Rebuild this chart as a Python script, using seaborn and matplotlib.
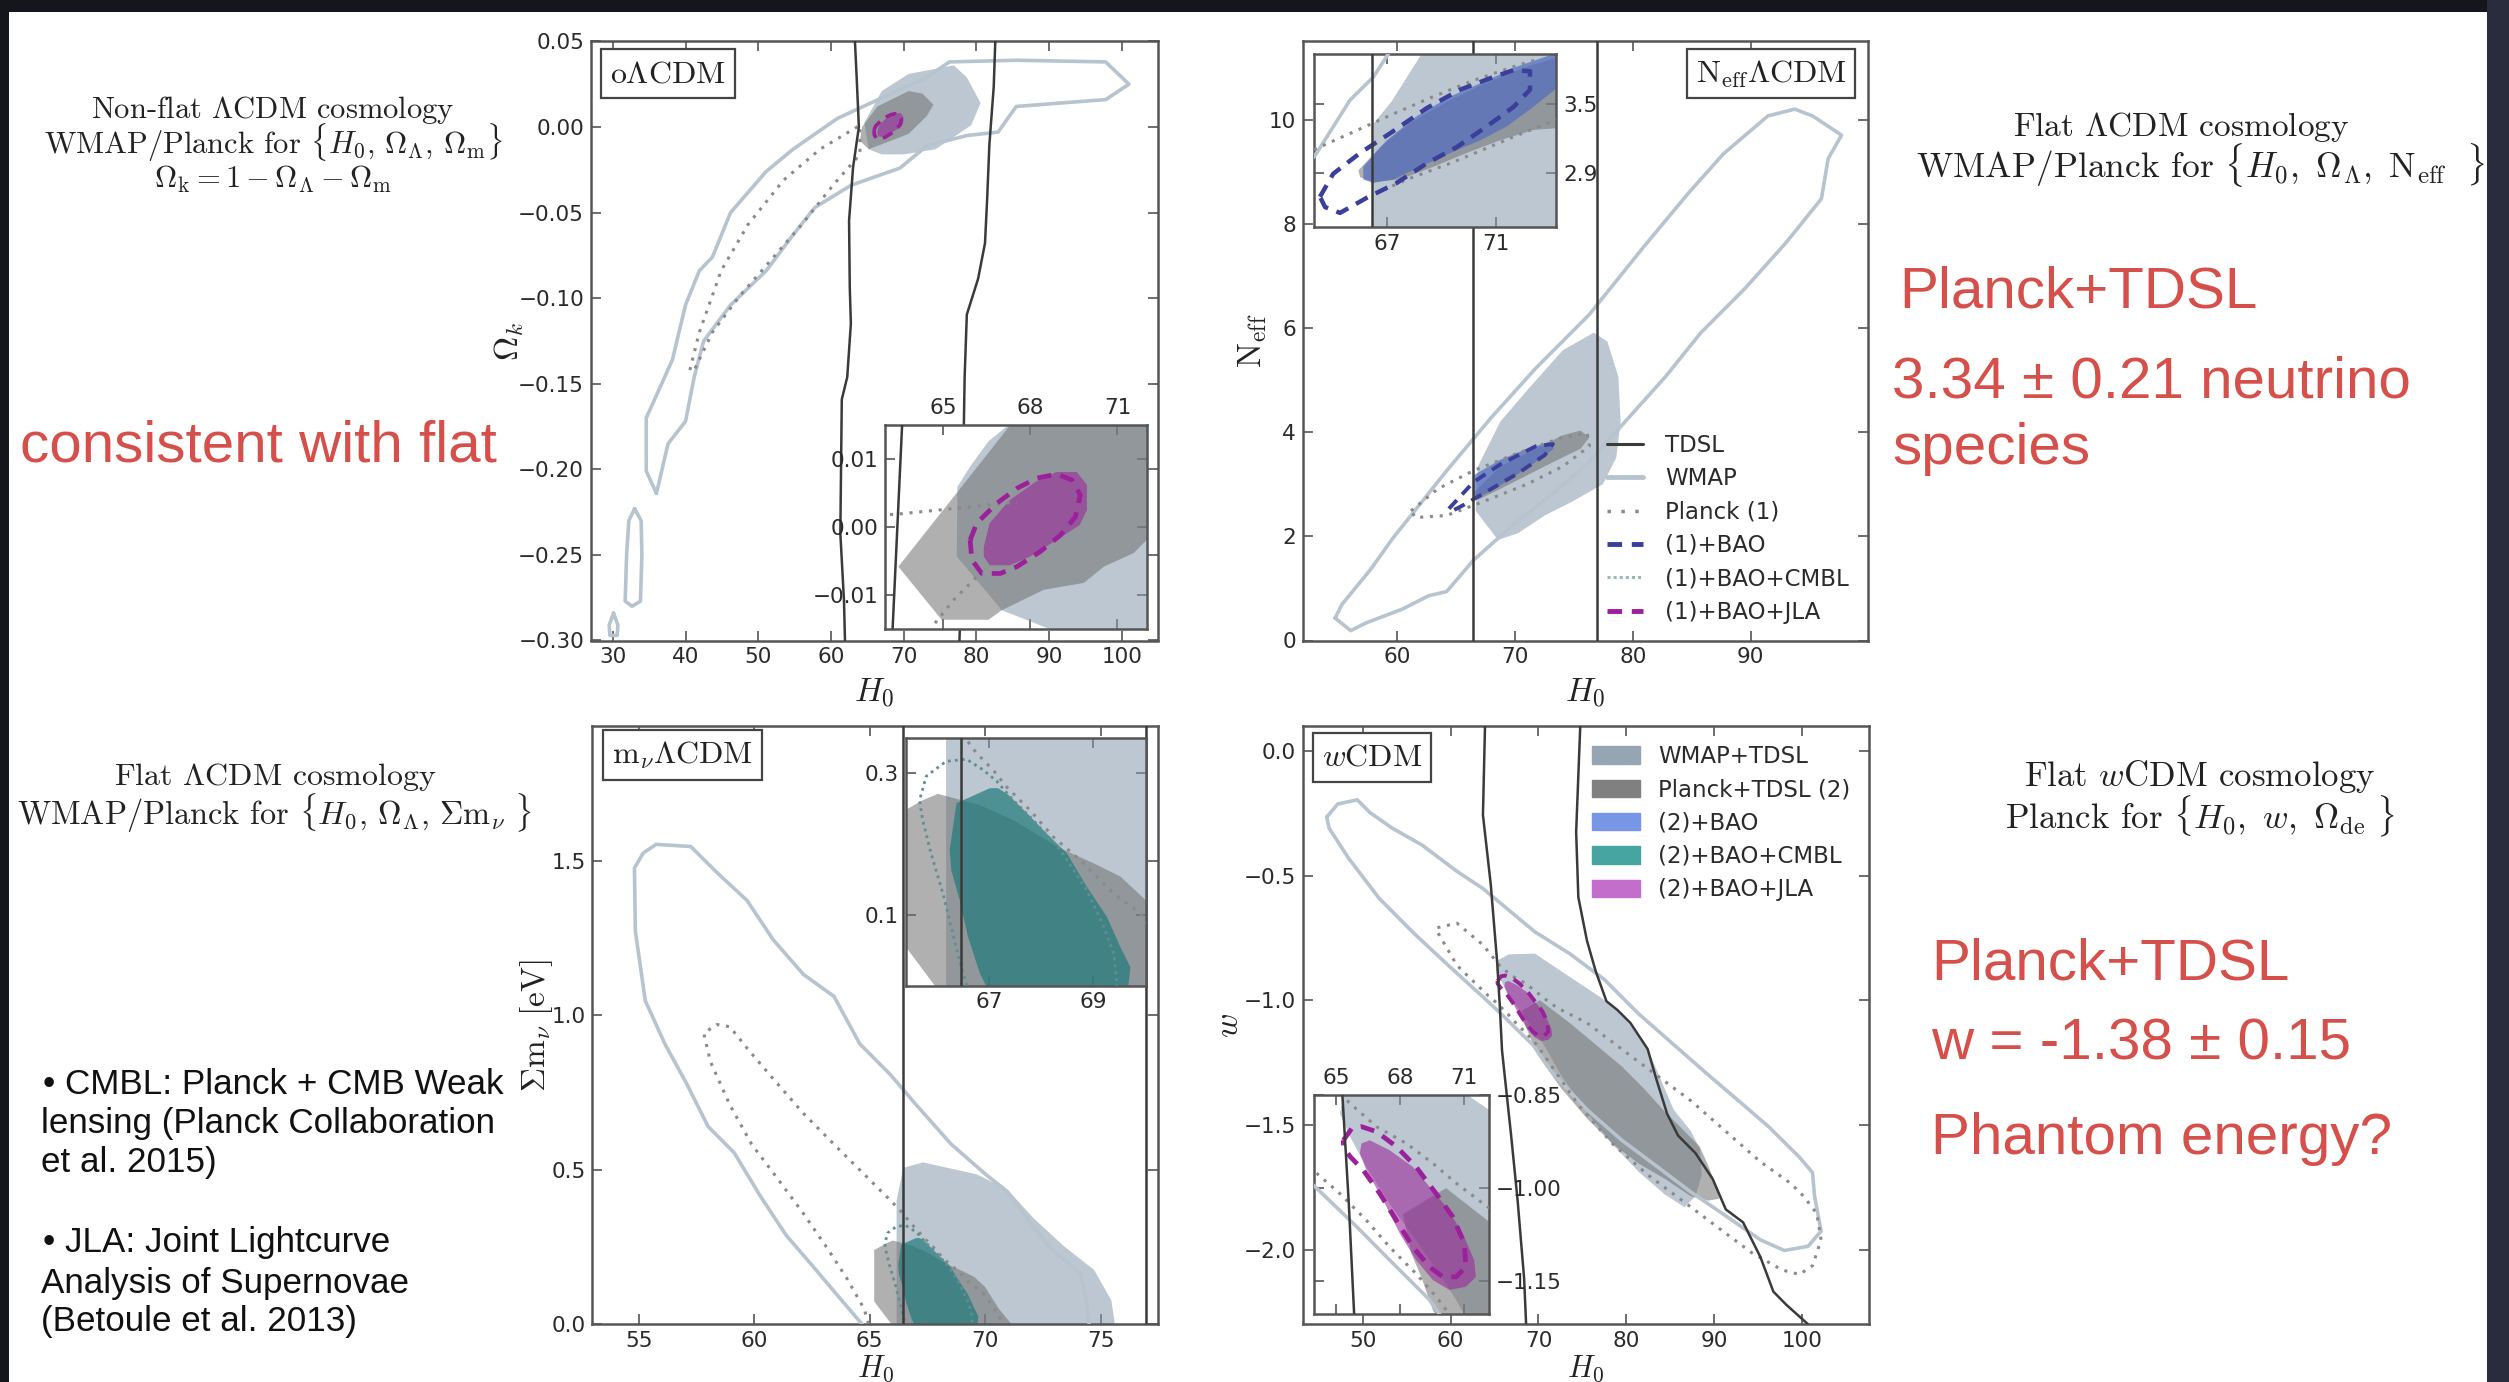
import numpy as np
import matplotlib
matplotlib.use("Agg")
import matplotlib.pyplot as plt
import seaborn as sns
from matplotlib.lines import Line2D
from matplotlib.patches import Patch, Rectangle

# ---------------- values ----------------
# oLCDM panel, points are (H0, Omega_k)
ok_tdsl_left = [(63.2, 0.06), (63.55, 0.0286), (63.85, 0.0), (63.05, -0.0236), (62.5, -0.0548),
                (62.6, -0.094), (62.75, -0.1148), (62.25, -0.1461), (61.5, -0.1592), (61.4, -0.1983),
                (61.3, -0.2374), (61.8, -0.2765), (62.0, -0.31)]
ok_tdsl_right = [(82.7, 0.06), (82.4, 0.0234), (81.8, -0.0105), (81.5, -0.0418), (81.2, -0.0679),
                 (80.25, -0.0887), (78.7, -0.1096), (78.4, -0.1461), (78.2, -0.1983), (78.1, -0.2504),
                 (77.6, -0.31)]
ok_wmap = [(36.0, -0.214), (34.6, -0.201), (34.6, -0.170), (36.3, -0.154), (38.2, -0.136), (40.0, -0.104),
           (41.9, -0.084), (43.7, -0.076), (46.2, -0.050), (51.1, -0.026), (54.8, -0.013), (60.9, 0.005),
           (67.0, 0.017), (73.2, 0.029), (76.3, 0.038), (85.5, 0.039), (97.8, 0.038), (101.0, 0.025),
           (97.8, 0.016), (91.6, 0.014), (85.5, 0.012), (83.0, -0.003), (78.7, -0.005), (73.2, -0.011),
           (69.5, -0.024), (62.8, -0.034), (57.8, -0.047), (54.8, -0.063), (51.1, -0.084), (46.2, -0.104),
           (42.5, -0.125), (41.2, -0.146), (40.0, -0.172), (37.6, -0.185)]
ok_wmap_isle = [(33.0, -0.223), (33.9, -0.230), (34.0, -0.250), (33.8, -0.277), (32.65, -0.280),
                (31.7, -0.277), (31.9, -0.250), (32.2, -0.230)]
ok_wmap_spot = [(30.1, -0.284), (30.7, -0.291), (30.6, -0.297), (29.6, -0.297), (29.5, -0.291)]
ok_planck = [(40.6, -0.142), (41.9, -0.120), (44.9, -0.084), (48.6, -0.057), (53.5, -0.031), (58.5, -0.013),
             (64.0, 0.001), (64.0, -0.016), (60.3, -0.034), (56.0, -0.057), (51.7, -0.078), (47.4, -0.099),
             (43.7, -0.120), (41.2, -0.142)]
ok_wmap_tdsl = [(64.6, 0.0025), (67.0, 0.021), (70.7, 0.031), (76.9, 0.036), (78.7, 0.029), (80.6, 0.014),
                (79.3, 0.001), (74.4, -0.013), (70.1, -0.016), (67.0, -0.016), (65.2, -0.013)]
ok_planck_tdsl = [(64.3, 0.0), (66.4, 0.012), (70.7, 0.021), (72.6, 0.0195), (74.1, 0.013), (73.2, 0.0064),
                  (70.7, -0.004), (68.3, -0.008), (65.2, -0.013), (64.0, -0.008)]
ok_jla_fill = [(66.4, -0.0029), (66.6, 0.0006), (67.3, 0.0040), (68.2, 0.0067), (68.9, 0.0081), (69.6, 0.0081),
               (69.95, 0.0062), (69.95, 0.0025), (69.7, 0.0003), (68.9, -0.0019), (68.0, -0.0043),
               (67.3, -0.0056), (66.6, -0.0056), (66.4, -0.0043)]
ok_jla_line = [(65.93, -0.0019), (66.16, 0.0006), (66.85, 0.0035), (67.54, 0.0057), (68.23, 0.0072),
               (68.92, 0.0078), (69.44, 0.0069), (69.72, 0.0047), (69.55, 0.0015), (69.03, -0.0012),
               (68.34, -0.0036), (67.54, -0.0058), (66.97, -0.0068), (66.33, -0.0068), (65.99, -0.0048)]
# oLCDM zoom
ok_in_planck_tdsl = [(63.46, -0.0058), (66.28, 0.0094), (67.31, 0.015), (67.7, 0.02), (73.0, 0.02),
                     (73.0, -0.0019), (72.0, -0.0019), (71.56, -0.0038), (70.53, -0.0058), (69.84, -0.0082),
                     (68.46, -0.0092), (67.02, -0.0122), (66.56, -0.0136), (64.95, -0.0136)]
ok_in_wmap_tdsl = [(67.54, 0.0201), (67.25, 0.015), (66.56, 0.0126), (65.93, 0.0089), (65.49, 0.0059),
                   (65.47, -0.0043), (67.02, -0.0122), (68.69, -0.015), (68.92, -0.0166), (73.0, -0.02),
                   (73.0, 0.02)]
ok_in_planck_a = [(62.5, 0.0017), (63.4, 0.0019), (66.0, 0.0030), (67.54, 0.0037)]
ok_in_planck_b = [(64.72, -0.0141), (65.4, -0.0105), (66.16, -0.0073)]
ok_in_tdsl = [(63.6, 0.016), (63.25, -0.016)]
ok_xticks = [30, 40, 50, 60, 70, 80, 90, 100]
ok_yticks = [0.05, 0.0, -0.05, -0.10, -0.15, -0.20, -0.25, -0.30]
ok_in_xticks = [65, 68, 71]
ok_in_yticks = [0.01, 0.0, -0.01]

# NeffLCDM panel, points are (H0, Neff)
ne_tdsl = [66.43, 77.0]
ne_wmap = [(54.73, 0.43), (55.3, 0.69), (57.76, 1.37), (59.65, 1.97), (61.17, 2.40), (64.2, 3.26),
           (67.99, 4.28), (71.78, 5.23), (76.32, 6.26), (80.87, 7.54), (84.66, 8.57), (87.69, 9.34),
           (91.48, 10.07), (93.75, 10.20), (95.26, 10.07), (97.73, 9.70), (96.59, 9.25), (96.02, 8.48),
           (92.99, 7.63), (89.58, 6.77), (85.79, 5.91), (82.76, 5.06), (79.35, 4.20), (76.32, 3.43),
           (73.29, 2.83), (69.88, 2.23), (66.47, 1.54), (64.2, 0.94), (62.68, 0.86), (60.41, 0.60),
           (57.38, 0.34), (56.05, 0.19)]
ne_wmap_tdsl = [(68.56, 1.93), (66.66, 2.49), (66.85, 3.34), (68.75, 4.20), (71.02, 4.80), (74.05, 5.57),
                (76.70, 5.91), (77.84, 5.74), (78.78, 5.06), (78.97, 4.20), (78.60, 3.51), (77.46, 3.00),
                (74.81, 2.66), (72.53, 2.40), (70.26, 2.06)]
ne_planck_tdsl = [(66.47, 2.83), (68.75, 3.34), (71.78, 3.68), (74.05, 3.94), (75.56, 4.03), (76.32, 3.90),
                  (75.56, 3.68), (73.29, 3.43), (71.02, 3.17), (68.75, 2.91), (66.85, 2.70)]
ne_bao_fill = [(66.47, 2.70), (66.47, 3.17), (68.75, 3.47), (71.02, 3.68), (72.91, 3.81), (73.29, 3.68),
               (71.78, 3.43), (69.50, 3.08), (67.61, 2.83)]
ne_bao_line = [(64.39, 2.53), (66.47, 3.04), (68.75, 3.38), (71.78, 3.73), (73.22, 3.77), (72.53, 3.56),
               (70.26, 3.21), (67.99, 2.91), (65.71, 2.61), (64.77, 2.50)]
ne_planck = [(61.17, 2.49), (63.44, 2.91), (66.47, 3.26), (70.26, 3.60), (74.05, 3.90), (76.13, 3.98),
             (76.32, 3.73), (74.05, 3.34), (71.02, 3.00), (67.23, 2.66), (64.2, 2.40), (61.55, 2.36)]
# NeffLCDM zoom
ne_in_wmap = [(64.0, 2.95), (64.40, 3.07), (65.63, 3.53), (66.49, 3.73), (67.04, 3.93), (67.47, 4.11)]
ne_in_wmap_tdsl = [(68.6, 4.0), (68.27, 3.93), (67.17, 3.52), (66.51, 3.33), (66.46, 2.3), (74.0, 2.3),
                   (74.0, 4.0)]
ne_in_planck_tdsl = [(66.0, 2.86), (65.94, 2.92), (66.74, 3.12), (67.84, 3.33), (69.32, 3.53), (70.67, 3.68),
                     (72.15, 3.82), (74.0, 3.95), (74.0, 3.30), (72.39, 3.27), (71.16, 3.18), (69.93, 3.07),
                     (68.70, 2.95), (67.47, 2.84), (66.49, 2.82)]
ne_in_bao_fill = [(66.12, 2.95), (66.98, 3.18), (68.09, 3.39), (69.32, 3.56), (70.67, 3.70), (71.78, 3.82),
                  (72.89, 3.91), (73.5, 3.95), (73.5, 3.68), (72.39, 3.47), (71.41, 3.30), (70.43, 3.18),
                  (69.32, 3.07), (68.21, 2.95), (67.23, 2.84), (66.49, 2.81), (66.12, 2.84)]
ne_in_bao_line = [(64.52, 2.69), (65.01, 2.89), (66.0, 3.07), (67.10, 3.24), (68.46, 3.46), (69.69, 3.62),
                  (70.92, 3.73), (71.66, 3.79), (72.27, 3.78), (72.27, 3.62), (71.66, 3.47), (70.67, 3.30),
                  (69.56, 3.12), (68.46, 2.98), (67.35, 2.81), (66.24, 2.68), (65.26, 2.55), (64.71, 2.60)]
ne_in_planck_a = [(64.30, 3.10), (65.63, 3.24), (67.23, 3.41), (68.70, 3.56), (70.18, 3.70), (71.66, 3.82),
                  (72.64, 3.89)]
ne_in_planck_b = [(66.86, 2.75), (67.84, 2.85), (69.32, 2.98), (70.55, 3.10), (71.66, 3.21), (73.23, 3.36)]
ne_xticks = [60, 70, 80, 90]
ne_yticks = [0, 2, 4, 6, 8, 10]
ne_in_xticks = [67, 71]
ne_in_yticks = [2.9, 3.5]

# mnuLCDM panel, points are (H0, sum m_nu)
mn_tdsl = [66.45, 76.97]
mn_wmap = [(64.96, -0.035), (64.68, 0.0), (63.64, 0.091), (62.52, 0.190), (61.39, 0.288), (60.27, 0.415),
           (59.14, 0.555), (58.01, 0.640), (57.07, 0.780), (56.14, 0.907), (55.29, 1.047), (54.86, 1.272),
           (54.82, 1.476), (55.20, 1.525), (55.76, 1.553), (57.26, 1.546), (58.39, 1.462), (59.70, 1.371),
           (60.83, 1.244), (62.14, 1.132), (63.46, 1.061), (64.58, 0.907), (65.90, 0.808), (67.02, 0.710),
           (68.53, 0.583), (70.03, 0.485), (70.97, 0.429), (72.09, 0.316), (72.84, 0.246), (74.16, 0.162),
           (74.44, 0.049), (74.5, 0.0), (74.5, -0.035)]
mn_planck = [(65.0, -0.03), (64.96, 0.0), (64.77, 0.049), (64.02, 0.148), (63.17, 0.246), (62.14, 0.358),
             (61.02, 0.471), (59.89, 0.583), (58.95, 0.710), (58.11, 0.850), (57.82, 0.942), (58.39, 0.970),
             (58.95, 0.963), (59.70, 0.893), (60.83, 0.794), (62.14, 0.682), (63.64, 0.569), (64.96, 0.471),
             (65.90, 0.401), (66.46, 0.358), (66.75, 0.329), (67.07, 0.305), (67.33, 0.281), (67.78, 0.248),
             (68.23, 0.210), (68.75, 0.177), (69.39, 0.130), (69.90, 0.102), (70.6, 0.03), (70.9, -0.03)]
mn_wmap_tdsl = [(66.17, -0.05), (66.17, 0.40), (66.46, 0.506), (67.31, 0.524), (69.65, 0.485), (70.97, 0.436),
                (72.09, 0.344), (73.41, 0.253), (74.72, 0.176), (75.47, 0.077), (75.62, 0.0), (75.7, -0.05)]
mn_planck_tdsl = [(65.2, 0.074), (65.2, 0.24), (65.72, 0.262), (66.01, 0.271), (66.27, 0.266), (66.82, 0.255),
                  (67.46, 0.234), (68.36, 0.194), (69.0, 0.173), (69.52, 0.154), (70.0, 0.121), (70.6, 0.05),
                  (71.15, 0.0), (71.3, -0.05), (66.1, -0.05), (65.95, 0.0)]
mn_cmbl_fill = [(66.24, 0.192), (66.37, 0.258), (66.62, 0.266), (67.01, 0.279), (67.17, 0.279), (67.36, 0.270),
                (67.72, 0.244), (68.10, 0.215), (68.49, 0.187), (68.87, 0.140), (69.26, 0.097), (69.52, 0.054),
                (69.71, 0.026), (69.68, 0.005), (69.61, -0.02), (67.07, -0.02), (66.82, 0.017), (66.59, 0.069),
                (66.43, 0.121), (66.27, 0.163)]
mn_cmbl_line = [(66.56, -0.01), (66.56, 0.002), (66.43, 0.035), (66.30, 0.073), (66.11, 0.130), (65.88, 0.187),
                (65.72, 0.234), (65.66, 0.262), (65.79, 0.296), (66.17, 0.317), (66.56, 0.320), (66.88, 0.305),
                (67.14, 0.289), (67.46, 0.262), (67.84, 0.234), (68.36, 0.192), (68.87, 0.135), (69.20, 0.083),
                (69.39, 0.045), (69.45, 0.002), (69.45, -0.01)]
mn_xticks = [55, 60, 65, 70, 75]
mn_yticks = [0.0, 0.5, 1.0, 1.5]
mn_in_xticks = [67, 69]
mn_in_yticks = [0.1, 0.3]

# wCDM panel, points are (H0, w)
w_tdsl_left = [(63.93, 0.12), (63.68, -0.257), (64.57, -0.535), (65.3, -0.848), (65.6, -1.022), (65.85, -1.2),
               (66.15, -1.30), (66.89, -1.543), (67.63, -1.804), (68.37, -2.117), (68.62, -2.32)]
w_tdsl_right = [(74.78, 0.12), (74.29, -0.326), (74.54, -0.587), (75.52, -0.761), (76.51, -0.883),
                (77.74, -1.004), (78.98, -1.039), (80.46, -1.091), (82.43, -1.196), (83.42, -1.317),
                (84.65, -1.456), (85.89, -1.543), (87.86, -1.613), (89.83, -1.717), (91.32, -1.839),
                (93.29, -1.891), (95.26, -2.030), (96.74, -2.169), (98.22, -2.222), (100.69, -2.30),
                (101.0, -2.32)]
w_wmap = [(45.91, -0.265), (47.15, -0.213), (49.37, -0.196), (50.85, -0.248), (53.32, -0.309), (56.77, -0.378),
          (60.72, -0.483), (63.68, -0.552), (66.64, -0.639), (69.60, -0.726), (73.55, -0.813), (77.50, -0.917),
          (81.45, -1.056), (85.39, -1.178), (89.34, -1.300), (92.80, -1.404), (96.25, -1.509), (99.71, -1.630),
          (101.19, -1.691), (101.43, -1.787), (102.17, -1.926), (100.69, -1.987), (97.98, -2.004),
          (95.26, -1.961), (91.32, -1.865), (87.37, -1.770), (83.42, -1.665), (79.47, -1.561), (75.52, -1.439),
          (71.58, -1.29), (69.39, -1.18), (67.52, -1.116), (65.97, -1.062), (64.03, -0.998), (59.73, -0.86),
          (55.78, -0.73), (51.84, -0.59), (48.38, -0.430), (46.16, -0.309)]
w_planck = [(58.50, -0.709), (60.72, -0.691), (63.68, -0.778), (65.58, -0.861), (66.90, -0.901), (68.30, -0.928),
            (69.54, -0.960), (70.63, -0.992), (72.10, -1.030), (75.52, -1.091), (79.47, -1.196), (83.42, -1.300),
            (87.37, -1.404), (91.32, -1.526), (95.26, -1.648), (98.72, -1.735), (100.20, -1.787),
            (101.68, -1.856), (102.17, -1.961), (101.19, -2.065), (99.71, -2.100), (97.73, -2.082),
            (94.28, -2.013), (90.33, -1.909), (86.38, -1.804), (82.43, -1.700), (78.49, -1.578), (74.54, -1.42),
            (70.16, -1.196), (69.70, -1.175), (68.76, -1.138), (67.52, -1.095), (66.43, -1.052), (65.19, -1.009),
            (64.03, -0.974), (60.72, -0.86), (58.50, -0.726)]
w_wmap_tdsl = [(65.41, -0.839), (66.64, -0.816), (69.60, -0.813), (72.56, -0.883), (75.52, -0.952),
               (78.49, -1.022), (80.46, -1.100), (82.43, -1.196), (83.91, -1.317), (85.39, -1.439),
               (87.37, -1.526), (88.36, -1.596), (88.60, -1.700), (87.86, -1.787), (86.63, -1.830),
               (84.41, -1.78), (81.45, -1.69), (78.49, -1.58), (75.52, -1.45), (72.56, -1.30), (70.63, -1.18),
               (69.85, -1.138), (68.76, -1.084), (67.52, -1.025), (66.43, -0.966), (65.66, -0.917),
               (65.19, -0.880)]
w_planck_tdsl = [(68.14, -1.042), (70.16, -1.0), (73.55, -1.091), (76.51, -1.178), (79.47, -1.265),
                 (81.94, -1.352), (84.41, -1.448), (86.38, -1.517), (88.36, -1.587), (89.34, -1.665),
                 (90.33, -1.752), (90.57, -1.796), (89.34, -1.804), (87.37, -1.787), (84.41, -1.717),
                 (81.45, -1.656), (78.49, -1.578), (75.52, -1.474), (72.56, -1.352), (70.10, -1.23),
                 (69.54, -1.196), (69.0, -1.143), (68.53, -1.105)]
w_jla_fill = [(66.20, -0.928), (66.59, -0.923), (67.52, -0.939), (68.61, -0.966), (69.39, -0.998),
              (70.16, -1.030), (70.94, -1.073), (71.48, -1.116), (71.56, -1.143), (71.09, -1.159),
              (70.32, -1.164), (69.54, -1.148), (68.76, -1.116), (67.99, -1.073), (67.21, -1.019),
              (66.43, -0.971), (66.12, -0.944)]
w_jla_line = [(65.35, -0.923), (65.74, -0.904), (66.20, -0.901), (66.90, -0.909), (67.83, -0.933),
              (68.76, -0.966), (69.70, -1.009), (70.47, -1.046), (71.02, -1.089), (71.09, -1.127),
              (70.63, -1.143), (70.01, -1.143), (69.39, -1.127), (68.61, -1.095), (67.83, -1.052),
              (67.06, -1.009), (66.28, -0.971), (65.66, -0.949), (65.35, -0.933)]
w_xticks = [50, 60, 70, 80, 90, 100]
w_yticks = [0.0, -0.5, -1.0, -1.5, -2.0]
w_in_xticks = [65, 68, 71]
w_in_yticks = [-0.85, -1.00, -1.15]

legend_lines = ["TDSL", "WMAP", "Planck (1)", "(1)+BAO", "(1)+BAO+CMBL", "(1)+BAO+JLA"]
legend_fills = ["WMAP+TDSL", "Planck+TDSL (2)", "(2)+BAO", "(2)+BAO+CMBL", "(2)+BAO+JLA"]

# ---------------- style ----------------
C_BG, A_BG = "#8799ac", 0.55      # WMAP+TDSL
C_GR, A_GR = "#707070", 0.55      # Planck+TDSL
C_BAO, A_BAO = "#4f6cc0", 0.70
C_TEAL, A_TEAL = "#1f7b7b", 0.70
C_JLA, A_JLA = "#9a2a9a", 0.60
C_WMAP = "#b7c4cf"
C_TDSL = "#3a3a3a"
C_PL = "#8a8a8a"
C_NAVY = "#3b3f9a"
C_PURP = "#9c1f9c"
C_CMBL = "#5f8f8f"
LS_DOT = (0, (1, 2.2))
LS_DASH = (0, (3, 2))
RED = "#d6504b"

sns.set_theme(style="ticks")
plt.rcParams.update({"font.family": "DejaVu Sans", "mathtext.fontset": "cm"})

W, H = 2509, 1382
fig = plt.figure(figsize=(W / 100, H / 100), dpi=100)
fig.patch.set_facecolor("#15161b")
fig.add_artist(Rectangle((9 / W, 0), (2487 - 9) / W, (H - 12) / H, transform=fig.transFigure,
                         fc="white", ec="none", zorder=-5))
fig.add_artist(Rectangle((2487 / W, 0), (W - 2487) / W, 1, transform=fig.transFigure,
                         fc="#282c3c", ec="none", zorder=-5))


def axes_px(left, top, right, bottom):
    return fig.add_axes([left / W, 1 - bottom / H, (right - left) / W, (bottom - top) / H])


def outline(ax, pts, color, lw, ls="-", closed=True, z=3):
    xy = np.asarray(pts, float)
    if closed:
        xy = np.vstack([xy, xy[:1]])
    sns.lineplot(x=xy[:, 0], y=xy[:, 1], sort=False, estimator=None, ax=ax,
                 color=color, lw=lw, linestyle=ls, zorder=z)


def region(ax, pts, color, alpha, z=1):
    xy = np.asarray(pts, float)
    ax.fill(xy[:, 0], xy[:, 1], color=color, alpha=alpha, lw=0, zorder=z)


def frame(ax, xlim, ylim, xticks, yticks):
    ax.set_xlim(*xlim)
    ax.set_ylim(*ylim)
    ax.set_xticks(xticks)
    ax.set_yticks(yticks)
    ax.set_xlabel("")
    ax.set_ylabel("")
    ax.tick_params(direction="in", top=True, right=True, length=7, width=1.2,
                   color="#555555", labelcolor="#2a2a2a", labelsize=15.5, pad=5)
    ax.tick_params(axis="x", pad=5)
    for sp in ax.spines.values():
        sp.set_visible(True)
        sp.set_color("#555555")
        sp.set_linewidth(1.8)


def tag(ax, x, y, s):
    ax.text(x, y, s, transform=ax.transAxes, ha="center", va="center", fontsize=23, color="#222222",
            zorder=10, bbox=dict(boxstyle="square,pad=0.28", fc="white", ec="#444444", lw=1.6))


def labels(ax, xl, yl, xy_off, yx_off, xsize=24):
    ax.set_xlabel(xl, fontsize=xsize, va="center", color="#222222")
    ax.xaxis.set_label_coords(0.5, xy_off)
    ax.set_ylabel(yl, fontsize=24, va="center", color="#222222")
    ax.yaxis.set_label_coords(yx_off, 0.5)


# ---------------- oLCDM ----------------
ax1 = axes_px(591, 41.4, 1158, 640.5)
region(ax1, ok_wmap_tdsl, C_BG, A_BG)
region(ax1, ok_planck_tdsl, C_GR, A_GR)
region(ax1, ok_jla_fill, C_JLA, A_JLA)
for pts in (ok_wmap, ok_wmap_isle, ok_wmap_spot):
    outline(ax1, pts, C_WMAP, 2.6)
outline(ax1, ok_planck, C_PL, 2.2, LS_DOT)
outline(ax1, ok_jla_line, C_PURP, 2.6, LS_DASH)
outline(ax1, ok_tdsl_left, C_TDSL, 1.8, closed=False, z=4)
outline(ax1, ok_tdsl_right, C_TDSL, 1.8, closed=False, z=4)
frame(ax1, (27, 105), (-0.30, 0.05), ok_xticks, ok_yticks)
labels(ax1, r"$H_0$", r"$\Omega_k$", -0.086, -0.145)
tag(ax1, 0.136, 0.946, r"$\mathrm{o\Lambda CDM}$")

in1 = axes_px(885, 425, 1146.5, 629.3)
region(in1, ok_in_wmap_tdsl, C_BG, A_BG)
region(in1, ok_in_planck_tdsl, C_GR, A_GR)
region(in1, ok_jla_fill, C_JLA, A_JLA)
outline(in1, ok_in_planck_a, C_PL, 2.2, LS_DOT, closed=False)
outline(in1, ok_in_planck_b, C_PL, 2.2, LS_DOT, closed=False)
outline(in1, ok_jla_line, C_PURP, 3.4, LS_DASH)
outline(in1, ok_in_tdsl, C_TDSL, 1.8, closed=False, z=4)
frame(in1, (63, 72), (-0.015, 0.015), ok_in_xticks, ok_in_yticks)
in1.tick_params(labeltop=True, labelbottom=False)

# ---------------- NeffLCDM ----------------
ax2 = axes_px(1303, 41.4, 1868.3, 640.5)
region(ax2, ne_wmap_tdsl, C_BG, A_BG)
region(ax2, ne_planck_tdsl, C_GR, A_GR)
region(ax2, ne_bao_fill, C_BAO, A_BAO)
outline(ax2, ne_wmap, C_WMAP, 2.6)
outline(ax2, ne_planck, C_PL, 2.2, LS_DOT)
outline(ax2, ne_bao_line, C_NAVY, 2.8, LS_DASH)
for h in ne_tdsl:
    ax2.axvline(h, color=C_TDSL, lw=1.8, zorder=4)
frame(ax2, (52, 100), (0, 11.5), ne_xticks, ne_yticks)
labels(ax2, r"$H_0$", r"$\mathrm{N_{eff}}$", -0.086, -0.09)
tag(ax2, 0.828, 0.946, r"$\mathrm{N_{eff}\Lambda CDM}$")
line_handles = [Line2D([], [], color=C_TDSL, lw=2.2),
                Line2D([], [], color=C_WMAP, lw=3.5),
                Line2D([], [], color=C_PL, lw=2.5, ls=(0, (1, 3))),
                Line2D([], [], color=C_NAVY, lw=3.5, ls=LS_DASH),
                Line2D([], [], color="#9ab8b8", lw=2.2, ls=(0, (1, 1))),
                Line2D([], [], color=C_PURP, lw=3.5, ls=LS_DASH)]
ax2.legend(line_handles, legend_lines, loc="upper left", bbox_to_anchor=(1607 / W, 1 - 434 / H),
           bbox_transform=fig.transFigure, frameon=False, fontsize=16.5, handlelength=1.55,
           handletextpad=1.0, labelspacing=0.45, borderpad=0, borderaxespad=0, labelcolor="#2a2a2a")

in2 = axes_px(1314, 54, 1556, 226.7)
region(in2, ne_in_wmap_tdsl, C_BG, A_BG)
region(in2, ne_in_planck_tdsl, C_GR, A_GR)
region(in2, ne_in_bao_fill, C_BAO, A_BAO)
outline(in2, ne_in_wmap, C_WMAP, 2.6, closed=False)
outline(in2, ne_in_planck_a, C_PL, 2.2, LS_DOT, closed=False)
outline(in2, ne_in_planck_b, C_PL, 2.2, LS_DOT, closed=False)
outline(in2, ne_in_bao_line, C_NAVY, 3.2, LS_DASH)
for h in ne_tdsl:
    in2.axvline(h, color=C_TDSL, lw=1.8, zorder=4)
frame(in2, (64.3, 73.23), (2.43, 3.93), ne_in_xticks, ne_in_yticks)
in2.tick_params(labelright=True, labelleft=False)

# ---------------- mnuLCDM ----------------
ax3 = axes_px(592.4, 726, 1158.3, 1324.3)
in3 = axes_px(906, 738, 1145.5, 985.5)
for a in (ax3, in3):
    region(a, mn_wmap_tdsl, C_BG, A_BG)
    region(a, mn_planck_tdsl, C_GR, A_GR)
    region(a, mn_cmbl_fill, C_TEAL, A_TEAL)
    outline(a, mn_wmap, C_WMAP, 2.6, closed=False)
    outline(a, mn_planck, C_PL, 2.2, LS_DOT, closed=False)
    outline(a, mn_cmbl_line, C_CMBL, 2.0, (0, (1, 1.5)), closed=False)
    for h in mn_tdsl:
        a.axvline(h, color=C_TDSL, lw=1.8, zorder=4)
frame(ax3, (53.0, 77.5), (0, 1.936), mn_xticks, mn_yticks)
labels(ax3, r"$H_0$", r"$\Sigma\mathrm{m}_{\nu}\ [\mathrm{eV}]$", -0.074, -0.098, xsize=22)
tag(ax3, 0.159, 0.9515, r"$\mathrm{m_{\nu}\Lambda CDM}$")
frame(in3, (65.4, 70.0), (0, 0.35), mn_in_xticks, mn_in_yticks)

# ---------------- wCDM ----------------
ax4 = axes_px(1303, 726, 1868.8, 1324.3)
in4 = axes_px(1313.5, 1095, 1488.5, 1313.5)
for a in (ax4, in4):
    region(a, w_wmap_tdsl, C_BG, A_BG)
    region(a, w_planck_tdsl, C_GR, A_GR)
    region(a, w_jla_fill, C_JLA, A_JLA)
    outline(a, w_wmap, C_WMAP, 2.6)
    outline(a, w_planck, C_PL, 2.2, LS_DOT)
    outline(a, w_jla_line, C_PURP, 2.8 if a is ax4 else 3.4, LS_DASH)
    outline(a, w_tdsl_left, C_TDSL, 1.8, closed=False, z=4)
    outline(a, w_tdsl_right, C_TDSL, 1.8, closed=False, z=4)
frame(ax4, (43.2, 107.6), (-2.30, 0.10), w_xticks, w_yticks)
labels(ax4, r"$H_0$", r"$w$", -0.074, -0.131, xsize=22)
tag(ax4, 0.122, 0.948, r"$w\mathrm{CDM}$")
fill_handles = [Patch(fc="#96a5b4", ec="#96a5b4"), Patch(fc="#808080", ec="#808080"),
                Patch(fc="#7896e6", ec="#7896e6"), Patch(fc="#46a5a0", ec="#46a5a0"),
                Patch(fc="#c36ecd", ec="#c36ecd")]
ax4.legend(fill_handles, legend_fills, loc="upper left", bbox_to_anchor=(1592 / W, 1 - 745 / H),
           bbox_transform=fig.transFigure, frameon=False, fontsize=16.5, handlelength=2.1,
           handleheight=0.8, handletextpad=0.8, labelspacing=0.45, borderpad=0, borderaxespad=0,
           labelcolor="#2a2a2a")
frame(in4, (63.95, 72.15), (-1.202, -0.85), w_in_xticks, w_in_yticks)
in4.tick_params(labeltop=True, labelbottom=False, labelright=True, labelleft=False)

# ---------------- slide text ----------------
def ftext(x, y, s, **kw):
    fig.text(x / W, 1 - y / H, s, va="baseline", **kw)


serif = dict(family="cmr10", ha="center", color="#222222")
ftext(273, 118, r"Non-flat $\Lambda$CDM cosmology", fontsize=22, **serif)
ftext(273, 154, r"WMAP/Planck for $\{H_0,\,\Omega_\Lambda,\,\Omega_\mathrm{m}\}$", fontsize=22, **serif)
ftext(273, 188, r"$\Omega_\mathrm{k} = 1 - \Omega_\Lambda - \Omega_\mathrm{m}$", fontsize=22, **serif)
ftext(2181, 136, r"Flat $\Lambda$CDM cosmology", fontsize=24, **serif)
ftext(2200, 178, r"WMAP/Planck for $\{H_0,\ \Omega_\Lambda,\ \mathrm{N_{eff}}\ \ \}$", fontsize=25.5, **serif)
ftext(275, 785, r"Flat $\Lambda$CDM cosmology", fontsize=23, **serif)
ftext(274, 825, r"WMAP/Planck for $\{H_0,\,\Omega_\Lambda,\,\Sigma\mathrm{m}_\nu\ \}$", fontsize=23.3, **serif)
ftext(2200, 786, r"Flat $w$CDM cosmology", fontsize=25, **serif)
ftext(2200, 829, r"Planck for $\{H_0,\ w,\ \Omega_\mathrm{de}\ \}$", fontsize=25, **serif)

red = dict(family="Liberation Sans", fontsize=42, color=RED, ha="left")
ftext(20, 461, "consistent with flat", **red)
ftext(1899, 307, "Planck+TDSL", **red)
ftext(1892, 398, "3.34 \u00b1 0.21 neutrino", **red)
ftext(1892, 464, "species", **red)
ftext(1931, 980, "Planck+TDSL", **red)
ftext(1931, 1060, "w = -1.38 \u00b1 0.15", **red)
ftext(1931, 1154, "Phantom energy?", **red)

note = dict(family="Liberation Sans", fontsize=25.2, color="#111111", ha="left")
ftext(43, 1094, "\u2022 CMBL: Planck + CMB Weak", **note)
ftext(41, 1133, "lensing (Planck Collaboration", **note)
ftext(41, 1172, "et al. 2015)", **note)
ftext(43, 1252, "\u2022 JLA: Joint Lightcurve", **note)
ftext(41, 1293, "Analysis of Supernovae", **note)
ftext(41, 1331, "(Betoule et al. 2013)", **note)

fig.savefig("out.png", dpi=100, facecolor=fig.get_facecolor())
